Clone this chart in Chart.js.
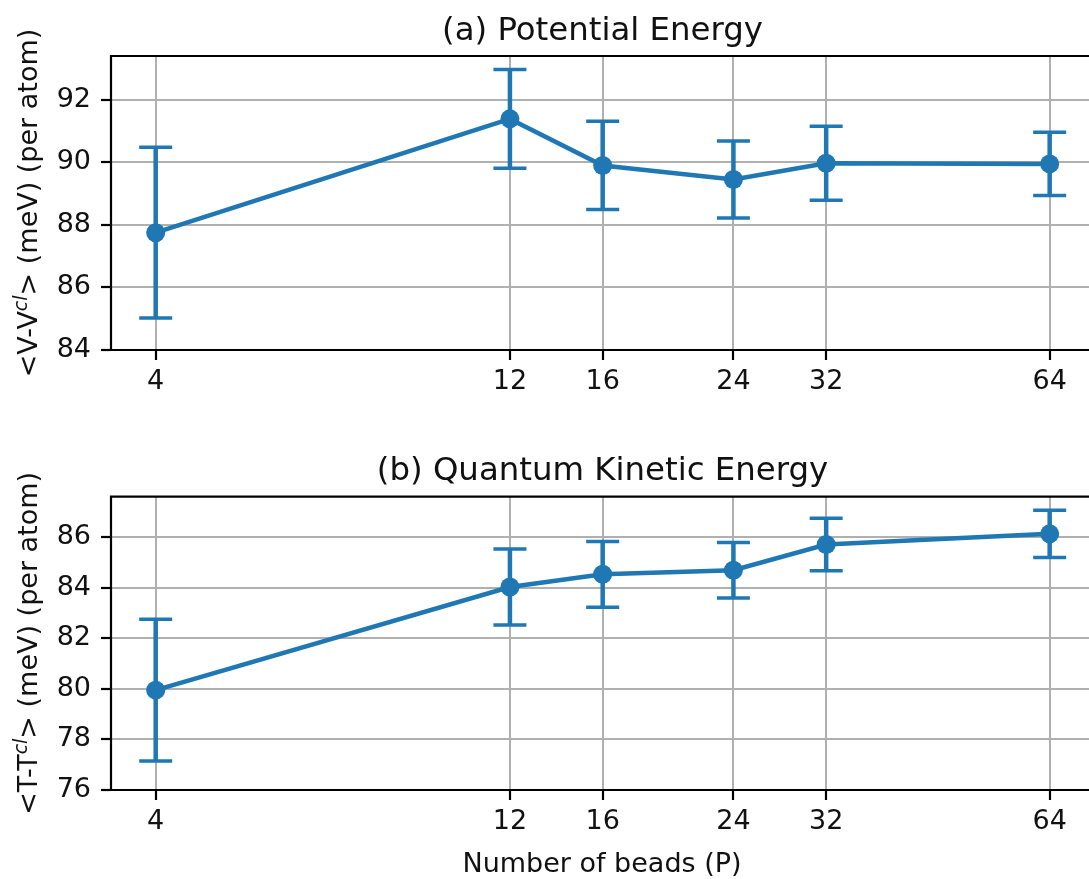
<!DOCTYPE html>
<html>
<head>
<meta charset="utf-8">
<script src="https://cdn.jsdelivr.net/npm/chart.js@4/dist/chart.umd.min.js"></script>
<style>
  html, body { margin: 0; padding: 0; background: #fff; overflow: hidden; width: 1089px; height: 879px; }
  canvas { position: absolute; left: 0; }
  #potentialChart { top: 0; }
  #kineticChart { top: 440px; }
</style>
</head>
<body>
<canvas id="potentialChart" width="1089" height="440"></canvas>
<canvas id="kineticChart" width="1089" height="439"></canvas>
<script>
// Number of beads P (x positions, log axis)
const beads = [4, 12, 16, 24, 32, 64];
const xTickValues = [4, 12, 16, 24, 32, 64];

// (a) potential energy <V - V^cl> per atom, meV, with error bars
const potential = [87.75, 91.39, 89.90, 89.45, 89.97, 89.95];
const potentialErr = [2.73, 1.58, 1.41, 1.23, 1.18, 1.01];
const potentialTicks = [84, 86, 88, 90, 92];

// (b) quantum kinetic energy <T - T^cl> per atom, meV, with error bars
const kinetic = [79.95, 84.03, 84.53, 84.69, 85.71, 86.13];
const kineticErr = [2.80, 1.50, 1.30, 1.10, 1.04, 0.93];
const kineticTicks = [76, 78, 80, 82, 84, 86];

const FONT = '"DejaVu Sans", "Liberation Sans", sans-serif';
const BLUE = '#1f77b4';
const TEXT = '#111';
// log2 range of the x axis; the right end runs off the page edge
const X_MIN = Math.pow(2, 1.8);
const X_MAX = Math.pow(2, 6.176);

// error bars, frame, titles and axis labels drawn on top of Chart.js
function panelPlugin(cfg) {
  return {
    id: 'panel_' + cfg.id,
    beforeDatasetsDraw(chart) {
      const ctx = chart.ctx;
      const xs = chart.scales.x, ys = chart.scales.y;
      ctx.save();
      ctx.strokeStyle = BLUE;
      ctx.lineCap = 'butt';
      cfg.values.forEach((v, i) => {
        const px = xs.getPixelForValue(beads[i]);
        const top = ys.getPixelForValue(v + cfg.errors[i]);
        const bot = ys.getPixelForValue(v - cfg.errors[i]);
        ctx.lineWidth = 4.5;
        ctx.beginPath();
        ctx.moveTo(px, top); ctx.lineTo(px, bot);
        ctx.stroke();
        ctx.lineWidth = 3.5;
        ctx.beginPath();
        ctx.moveTo(px - 16.5, top); ctx.lineTo(px + 16.5, top);
        ctx.moveTo(px - 16.5, bot); ctx.lineTo(px + 16.5, bot);
        ctx.stroke();
      });
      ctx.restore();
    },
    afterDraw(chart) {
      const ctx = chart.ctx;
      const a = chart.chartArea;
      ctx.save();
      // axes frame: top, left and bottom spines
      ctx.strokeStyle = '#000';
      ctx.lineWidth = 2.2;
      ctx.beginPath();
      ctx.moveTo(a.right + 2, a.top);
      ctx.lineTo(a.left, a.top);
      ctx.lineTo(a.left, a.bottom);
      ctx.lineTo(a.right + 2, a.bottom);
      ctx.stroke();

      // title
      ctx.fillStyle = TEXT;
      ctx.font = '32.4px ' + FONT;
      ctx.textAlign = 'center';
      ctx.textBaseline = 'alphabetic';
      ctx.fillText(cfg.title, 602.5, cfg.titleBaseline);

      // y-axis label with italic superscript
      const cy = (a.top + a.bottom) / 2;
      ctx.translate(37, cy);
      ctx.rotate(-Math.PI / 2);
      ctx.textAlign = 'left';
      const parts = cfg.ylabel;
      const fonts = parts.map(p => p.sup ? 'italic 19px ' + FONT : '27px ' + FONT);
      let total = 0;
      const widths = parts.map((p, i) => { ctx.font = fonts[i]; const w = ctx.measureText(p.text).width; total += w; return w; });
      let x = -total / 2;
      parts.forEach((p, i) => {
        ctx.font = fonts[i];
        ctx.fillText(p.text, x, p.sup ? -10 : 0);
        x += widths[i];
      });
      ctx.restore();

      if (cfg.xlabel) {
        ctx.save();
        ctx.fillStyle = TEXT;
        ctx.font = '27px ' + FONT;
        ctx.textAlign = 'center';
        ctx.textBaseline = 'alphabetic';
        ctx.fillText(cfg.xlabel, 602, cfg.xlabelBaseline);
        ctx.restore();
      }
    }
  };
}

function makeChart(canvasId, values, errors, yMin, yMax, yTicks, plugin, xAxisHeight, topPad) {
  return new Chart(document.getElementById(canvasId), {
    type: 'line',
    data: {
      datasets: [{
        data: beads.map((b, i) => ({ x: b, y: values[i] })),
        borderColor: BLUE,
        backgroundColor: BLUE,
        borderWidth: 4.5,
        pointRadius: 9.5,
        pointHoverRadius: 9.5,
        pointBorderWidth: 0,
        pointBackgroundColor: BLUE,
        tension: 0,
        fill: false,
        clip: false
      }]
    },
    options: {
      responsive: false,
      animation: false,
      devicePixelRatio: 1,
      layout: { autoPadding: false, padding: { top: topPad, right: 0, bottom: 0, left: 0 } },
      plugins: { legend: { display: false }, title: { display: false }, tooltip: { enabled: false } },
      scales: {
        x: {
          type: 'logarithmic',
          min: X_MIN,
          max: X_MAX,
          afterBuildTicks: s => { s.ticks = xTickValues.map(v => ({ value: v })); },
          afterFit: s => { s.height = xAxisHeight; s.paddingRight = 0; s.paddingLeft = 0; },
          border: { display: false },
          grid: { color: '#b0b0b0', lineWidth: 2, tickColor: '#000', tickWidth: 2.2, tickLength: 10 },
          ticks: {
            font: { family: FONT, size: 27 },
            color: TEXT,
            padding: 6,
            maxRotation: 0,
            autoSkip: false,
            callback: v => String(v)
          }
        },
        y: {
          min: yMin,
          max: yMax,
          afterBuildTicks: s => { s.ticks = yTicks.map(v => ({ value: v })); },
          afterFit: s => { s.width = 111; },
          border: { display: false },
          grid: { color: '#b0b0b0', lineWidth: 2, tickColor: '#000', tickWidth: 2.2, tickLength: 10 },
          ticks: {
            font: { family: FONT, size: 27 },
            color: TEXT,
            padding: 10,
            callback: v => String(v)
          }
        }
      }
    },
    plugins: [plugin]
  });
}

makeChart('potentialChart', potential, potentialErr, 84, 93.4, potentialTicks,
  panelPlugin({
    id: 'a', values: potential, errors: potentialErr,
    title: '(a) Potential Energy', titleBaseline: 39.5,
    ylabel: [{ text: '<V-V' }, { text: 'cl', sup: true }, { text: '> (meV) (per atom)' }]
  }), 90, 56);

makeChart('kineticChart', kinetic, kineticErr, 76, 87.6, kineticTicks,
  panelPlugin({
    id: 'b', values: kinetic, errors: kineticErr,
    title: '(b) Quantum Kinetic Energy', titleBaseline: 40,
    ylabel: [{ text: '<T-T' }, { text: 'cl', sup: true }, { text: '> (meV) (per atom)' }],
    xlabel: 'Number of beads (P)', xlabelBaseline: 431.7
  }), 89, 56.7);
</script>
</body>
</html>
